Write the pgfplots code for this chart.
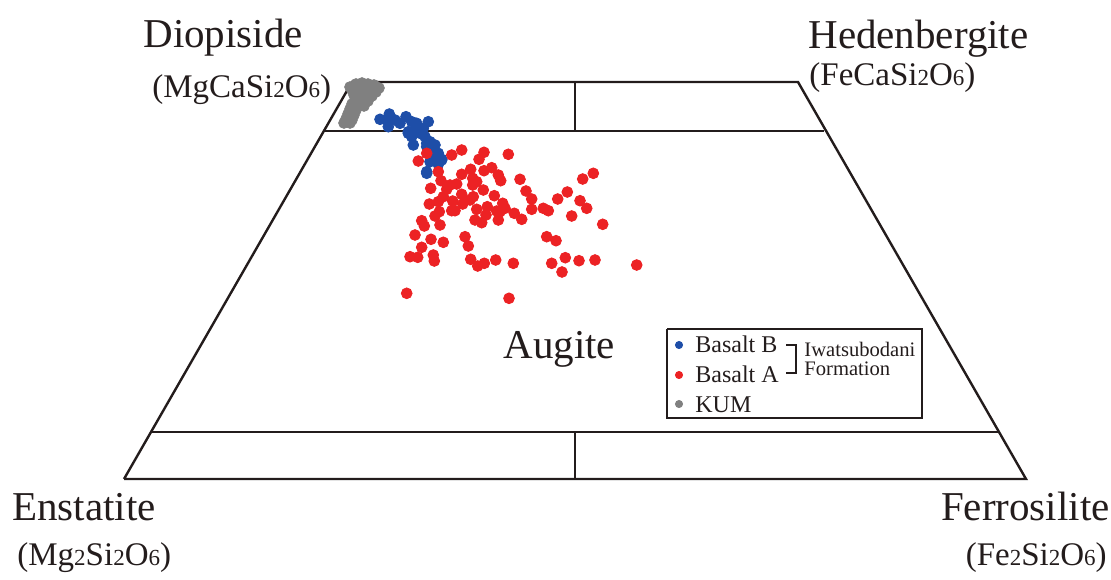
\documentclass[border=0pt]{standalone}
\usepackage{pgfplots}
\pgfplotsset{compat=1.18}
\usepackage{fontspec}
\setmainfont{Liberation Serif}
\definecolor{ink}{RGB}{35,28,28}
\definecolor{ptred}{RGB}{236,34,36}
\definecolor{ptblue}{RGB}{30,78,168}
\definecolor{ptgray}{RGB}{128,128,128}
\newcommand{\sm}[1]{{\fontsize{11.5}{12}\selectfont #1}}
\newcommand{\bigname}{\fontsize{20.5}{22}\selectfont}
\newcommand{\form}{\fontsize{16.5}{18}\selectfont}
\begin{document}
\begin{tikzpicture}
\begin{axis}[
  x=0.5pt, y=0.5pt,
  xmin=0, xmax=1111, ymin=0, ymax=579,
  y dir=reverse,
  hide axis, clip=false, scale only axis,
]
\path (axis cs:0,0) rectangle (axis cs:1111,579);
% quadrilateral frame
\addplot[ink, line width=1.2pt, no marks, line join=miter] coordinates {(124,479) (1026,479) (798,82) (352,82) (124,479)};
\addplot[ink, line width=1.2pt, no marks] coordinates {(325,131) (824,131)};
\addplot[ink, line width=1.2pt, no marks] coordinates {(151,432) (999,432)};
\addplot[ink, line width=1.2pt, no marks] coordinates {(575,82) (575,131)};
\addplot[ink, line width=1.2pt, no marks] coordinates {(575,432) (575,479)};
% KUM
\addplot[only marks, mark=*, mark size=2.7pt, ptgray, mark options={draw=ptgray, fill=ptgray}] coordinates {
(350,87) (356,84) (362,83) (368,84) (374,85) (379,88) (352,90) (358,89) (364,88) (370,90) (376,92)
(354,95) (360,94) (366,95) (372,96) (356,100) (362,100) (368,101) (352,104) (358,105) (364,106)
(350,109) (356,110) (348,114) (354,115) (346,119) (352,120) (344,123) (350,123)
};
% Basalt B
\addplot[only marks, mark=*, mark size=2.7pt, ptblue, mark options={draw=ptblue, fill=ptblue}] coordinates {
(380,119.3) (389.3,114) (388.3,126.7) (395,120) (400,123.3) (406,116.7) (411.7,121.7) (416.7,123.3)
(428.3,121.7) (408.3,131.7) (415,130) (420,133.3) (423.3,128.3) (425,136.7) (411.7,136.7) (430,141.7)
(435,145) (426.7,146.7) (433.3,151.7) (438.3,153.3) (441.7,159.3) (433.3,160) (438.3,164.3) (426.7,171.7)
(386.7,120) (408.3,133.3) (413.3,145) (426.7,143.3) (433.3,145) (430,161.7) (441.7,160) (426.7,173.3)
(435,155) (438.3,163.3)
};
% Basalt A
\addplot[only marks, mark=*, mark size=2.7pt, ptred, mark options={draw=ptred, fill=ptred}] coordinates {
(426.7,153.3) (418.3,161) (451.7,155) (461.7,150) (484,152.3) (508.3,154.3) (479,159.3)
(438.3,171.7) (461.7,174.3) (470.7,169.3) (484,170.7) (491.7,167.7) (498.3,175) (500.7,180.7)
(520,179.3) (582.7,179) (593.3,173.3) (441,180.7) (450,185) (456.7,184) (472.7,178.3)
(476.7,181.7) (472.7,185) (446.7,189.3) (430.7,188.3) (483.3,190) (461.7,194.3) (443.3,196.7)
(526,191) (494.3,195.7) (531.7,199) (567.3,192) (557.7,199) (580,200.7) (470,200) (473.3,196.7)
(452.7,201) (438.3,201.7) (429.3,204) (462.7,204) (487.3,206.7) (502.7,203.3) (505,208.3)
(496.7,211) (500,211.7) (476.7,209.3) (451.7,210.7) (455,210.7) (439.3,211.7) (435,216)
(531.7,209.3) (543.3,208.3) (548.3,210.7) (586.7,208.3) (486,215) (514.3,213.3) (521.7,219.3)
(498.3,220) (475,220) (481.7,222.7) (571.7,216) (421.7,220.7) (424.3,226) (440,225) (602.7,224.3)
(415,235) (431,239.3) (443.3,242.3) (465,236.7) (468.3,246) (546.7,236.7) (556,240.7) (421.7,247.3)
(410,256.7) (417.7,257.3) (433.3,255) (434.3,261) (470.7,259.3) (477.7,266) (484.3,263.3)
(495.7,260) (513.3,263.3) (551.7,263.3) (565.3,257.7) (579,260.7) (595,260) (562,272) (636.7,265)
(406.7,293.3) (509,298.3)
};
% legend box
\addplot[ink, line width=1pt, no marks] coordinates {(667,329) (922,329) (922,418) (667,418) (667,329)};
\addplot[only marks, mark=*, mark size=1.8pt, ptblue] coordinates {(679,345)};
\addplot[only marks, mark=*, mark size=1.8pt, ptred] coordinates {(679,375)};
\addplot[only marks, mark=*, mark size=1.8pt, ptgray] coordinates {(679,404)};
\addplot[ink, line width=0.7pt, no marks] coordinates {(786,345) (796,345) (796,373) (786,373)};
\node[anchor=base west, inner sep=0pt, text=ink, font=\fontsize{12}{13}\selectfont] at (axis cs:695,352) {Basalt B};
\node[anchor=base west, inner sep=0pt, text=ink, font=\fontsize{12}{13}\selectfont] at (axis cs:695,382) {Basalt A};
\node[anchor=base west, inner sep=0pt, text=ink, font=\fontsize{12}{13}\selectfont] at (axis cs:695,412) {KUM};
\node[anchor=base west, inner sep=0pt, text=ink, font=\fontsize{10.3}{11}\selectfont] at (axis cs:804,356) {Iwatsubodani};
\node[anchor=base west, inner sep=0pt, text=ink, font=\fontsize{10.3}{11}\selectfont] at (axis cs:804,375) {Formation};
% labels
\node[anchor=base west, inner sep=0pt, text=ink, font=\bigname] at (axis cs:143,47) {Diopiside};
\node[anchor=base west, inner sep=0pt, text=ink, font=\form] at (axis cs:152,97) {(MgCaSi\sm{2}O\sm{6})};
\node[anchor=base west, inner sep=0pt, text=ink, font=\bigname] at (axis cs:808,48) {Hedenbergite};
\node[anchor=base west, inner sep=0pt, text=ink, font=\form] at (axis cs:809,85) {(FeCaSi\sm{2}O\sm{6})};
\node[anchor=base west, inner sep=0pt, text=ink, font=\bigname] at (axis cs:12,520) {Enstatite};
\node[anchor=base west, inner sep=0pt, text=ink, font=\form] at (axis cs:17,565) {(Mg\sm{2}Si\sm{2}O\sm{6})};
\node[anchor=base east, inner sep=0pt, text=ink, font=\bigname] at (axis cs:1110,520) {Ferrosilite};
\node[anchor=base east, inner sep=0pt, text=ink, font=\form] at (axis cs:1107,565) {(Fe\sm{2}Si\sm{2}O\sm{6})};
\node[anchor=base west, inner sep=0pt, text=ink, font=\bigname] at (axis cs:503,358) {Augite};
\end{axis}
\end{tikzpicture}
\end{document}
